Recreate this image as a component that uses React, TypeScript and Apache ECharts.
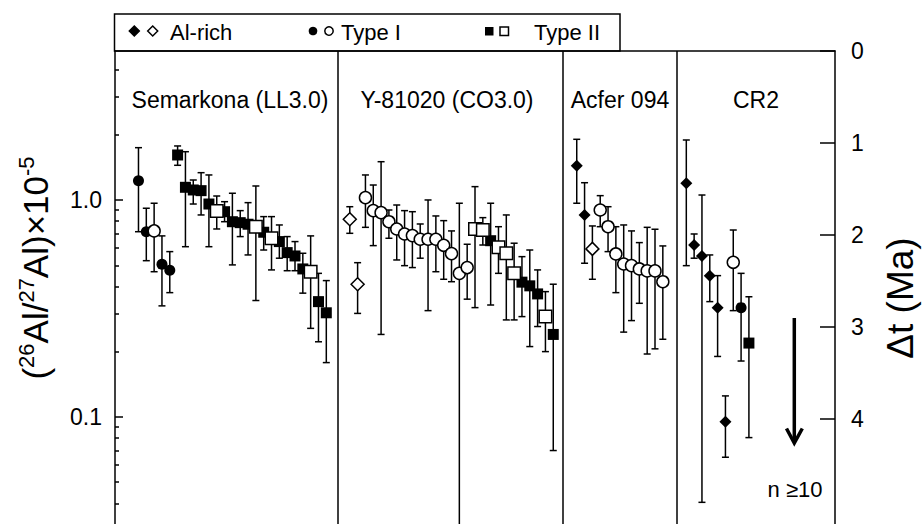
import React, { useEffect, useRef } from 'react';
import * as echarts from 'echarts';

// ---- data: [position index, 26Al/27Al (x1e-5), lower bound, upper bound]
const panelNames = ['Semarkona (LL3.0)', 'Y-81020 (CO3.0)', 'Acfer 094', 'CR2'];
const panelDividers = [26.5, 55.2, 69.8];

const alRichFilled = [
  [57, 1.439, 0.966, 1.904], [58, 0.853, 0.511, 1.201],
  [71, 1.194, 0.498, 1.89], [72, 0.62, 0.539, 0.697], [73, 0.552, 0.0404, 1.054],
  [74, 0.448, 0.34, 0.558], [75, 0.319, 0.19, 0.448], [76, 0.0951, 0.0652, 0.125],
];
const alRichOpen = [
  [28, 0.815, 0.702, 0.931], [29, 0.409, 0.3, 0.514], [59, 0.595, 0.431, 0.759],
];
const typeIFilled = [
  [1, 1.227, 0.714, 1.742], [2, 0.714, 0.525, 0.916], [4, 0.506, 0.325, 0.683],
  [5, 0.474, 0.374, 0.578], [78, 0.319, 0.181, 0.459],
];
const typeIOpen = [
  [3, 0.72, 0.467, 0.966],
  [30, 1.025, 0.748, 1.304], [31, 0.893, 0.616, 1.172], [32, 0.874, 0.24, 1.501],
  [33, 0.794, 0.666, 0.899], [34, 0.735, 0.529, 0.948], [35, 0.697, 0.498, 0.893],
  [36, 0.685, 0.488, 0.883], [37, 0.659, 0.539, 0.775], [38, 0.659, 0.309, 1.0],
  [39, 0.659, 0.467, 0.844], [40, 0.618, 0.431, 0.803], [41, 0.566, 0.42, 0.72],
  [42, 0.459, 0.01, 0.966], [43, 0.488, 0.349, 0.625],
  [60, 0.899, 0.753, 1.047], [61, 0.753, 0.578, 0.931], [62, 0.564, 0.374, 0.753],
  [63, 0.507, 0.246, 0.767], [64, 0.498, 0.278, 0.72], [65, 0.481, 0.334, 0.636],
  [66, 0.471, 0.195, 0.748], [67, 0.471, 0.206, 0.733], [68, 0.42, 0.228, 0.614],
  [77, 0.516, 0.309, 0.727],
];
const typeIIFilled = [
  [6, 1.612, 1.445, 1.774], [7, 1.144, 0.609, 1.669], [8, 1.112, 0.958, 1.236],
  [9, 1.104, 0.853, 1.336], [10, 0.958, 0.609, 1.304], [12, 0.883, 0.794, 0.982],
  [13, 0.794, 0.502, 1.074], [14, 0.786, 0.678, 0.893], [15, 0.773, 0.558, 0.972],
  [17, 0.71, 0.588, 0.838], [19, 0.643, 0.539, 0.767], [20, 0.572, 0.472, 0.678],
  [21, 0.552, 0.472, 0.643], [22, 0.481, 0.372, 0.568], [24, 0.34, 0.222, 0.459],
  [25, 0.302, 0.178, 0.425],
  [46, 0.649, 0.328, 0.966], [50, 0.418, 0.29, 0.548], [51, 0.402, 0.211, 0.588],
  [52, 0.369, 0.261, 0.476], [54, 0.24, 0.07, 0.409],
  [79, 0.219, 0.0803, 0.358],
];
const typeIIOpen = [
  [11, 0.89, 0.735, 1.043], [16, 0.753, 0.344, 1.16], [18, 0.666, 0.476, 0.838],
  [23, 0.467, 0.256, 0.683],
  [44, 0.735, 0.319, 1.152], [45, 0.727, 0.62, 0.829], [47, 0.605, 0.459, 0.753],
  [48, 0.568, 0.28, 0.853], [49, 0.459, 0.28, 0.632], [53, 0.29, 0.2, 0.378],
];

const leftMajorTicks = [0.1, 1];
const leftMinorTicks = [0.04, 0.05, 0.06, 0.07, 0.08, 0.09, 0.2, 0.3, 0.4, 0.5, 0.6, 0.7, 0.8, 0.9, 2, 3, 4];
const rightTicks = [0, 1, 2, 3, 4];

const FONT = 'Liberation Sans, Arial, Helvetica, sans-serif';

export default function App() {
  const ref = useRef<HTMLDivElement>(null);
  useEffect(() => {
    if (!ref.current) return;
    const chart = echarts.init(ref.current, null, { renderer: 'svg' });
    const all = [...alRichFilled, ...alRichOpen, ...typeIFilled, ...typeIOpen, ...typeIIFilled, ...typeIIOpen];
    const black = '#000';
    const scatter = (name: string, data: number[][], symbol: string, size: number, filled: boolean) => ({
      name,
      type: 'scatter',
      xAxisIndex: 0,
      yAxisIndex: 0,
      symbol,
      symbolSize: size,
      z: 5,
      data: data.map((d) => [d[0], d[1]]),
      itemStyle: { color: filled ? black : '#fff', borderColor: black, borderWidth: filled ? 0 : 1.5, opacity: 1 },
      emphasis: { disabled: true },
    });
    const txt = (text: string, x: number, y: number, size: number, align = 'center') => ({
      type: 'text', x, y, z: 10,
      style: { text, fontSize: size, fontFamily: FONT, fill: black, align, verticalAlign: 'middle' },
    });
    const diamond = (cx: number, cy: number, h: number, filled: boolean) => ({
      type: 'polygon', z: 10,
      shape: { points: [[cx, cy - h], [cx + h, cy], [cx, cy + h], [cx - h, cy]] },
      style: { fill: filled ? black : '#fff', stroke: black, lineWidth: 1.5 },
    });
    chart.setOption({
      animation: false,
      grid: { left: 115, right: 87, top: 51, bottom: 0, containLabel: false },
      xAxis: [{
        type: 'value', min: -2, max: 90, position: 'top',
        axisLine: { show: true, onZero: false, lineStyle: { color: black, width: 1.5 } },
        axisTick: { show: false }, axisLabel: { show: false }, splitLine: { show: false },
      }],
      yAxis: [
        {
          type: 'log', logBase: 10, min: 0.0321, max: 4.86, position: 'left',
          axisLine: { show: true, onZero: false, lineStyle: { color: black, width: 1.5 } },
          axisTick: { show: true, inside: true, length: 8, customValues: leftMajorTicks, lineStyle: { color: black, width: 1.5 } },
          axisLabel: { show: true, customValues: leftMajorTicks, margin: 13, fontSize: 23, fontFamily: FONT, color: black,
            formatter: (v: number) => Number(v).toFixed(1) },
          splitLine: { show: false },
        },
        {
          type: 'log', logBase: 10, min: 0.0321, max: 4.86, position: 'left',
          axisLine: { show: false, onZero: false },
          axisTick: { show: true, inside: true, length: 4, customValues: leftMinorTicks, lineStyle: { color: black, width: 1.5 } },
          axisLabel: { show: false }, splitLine: { show: false },
        },
        {
          type: 'value', min: 0, max: 5.14, inverse: true, position: 'right',
          axisLine: { show: true, onZero: false, lineStyle: { color: black, width: 1.5 } },
          axisTick: { show: true, inside: true, length: 15, customValues: rightTicks, lineStyle: { color: black, width: 1.5 } },
          axisLabel: { show: true, customValues: rightTicks, margin: 16, fontSize: 23, fontFamily: FONT, color: black },
          splitLine: { show: false },
        },
      ],
      series: [
        {
          name: 'error bars',
          type: 'custom',
          xAxisIndex: 0, yAxisIndex: 0, z: 2,
          data: all.map((d) => [d[0], d[2], d[3]]),
          encode: { x: 0, y: [1, 2] },
          renderItem: (params: any, api: any) => {
            const x = api.value(0);
            const lo = api.coord([x, api.value(1)]);
            const hi = api.coord([x, api.value(2)]);
            const c = 3.5;
            const st = { stroke: black, lineWidth: 1.5 };
            return {
              type: 'group',
              children: [
                { type: 'line', shape: { x1: lo[0], y1: lo[1], x2: hi[0], y2: hi[1] }, style: st },
                { type: 'line', shape: { x1: hi[0] - c, y1: hi[1], x2: hi[0] + c, y2: hi[1] }, style: st },
                { type: 'line', shape: { x1: lo[0] - c, y1: lo[1], x2: lo[0] + c, y2: lo[1] }, style: st },
              ],
            };
          },
          markLine: {
            silent: true, symbol: 'none', label: { show: false },
            lineStyle: { color: black, width: 1.5, type: 'solid' },
            data: panelDividers.map((v) => ({ xAxis: v })),
          },
        },
        scatter('Al-rich (filled)', alRichFilled, 'diamond', 12, true),
        scatter('Al-rich (open)', alRichOpen, 'diamond', 13, false),
        scatter('Type I (filled)', typeIFilled, 'circle', 11, true),
        scatter('Type I (open)', typeIOpen, 'circle', 12, false),
        scatter('Type II (filled)', typeIIFilled, 'rect', 11, true),
        scatter('Type II (open)', typeIIOpen, 'rect', 12.5, false),
      ],
      graphic: [
        { type: 'rect', z: 9, shape: { x: 114.5, y: 14, width: 505.5, height: 37 }, style: { fill: 'none', stroke: black, lineWidth: 1.5 } },
        diamond(134.3, 31, 5, true),
        diamond(152.7, 31, 5, false),
        txt('Al-rich', 170, 32, 22, 'left'),
        { type: 'circle', z: 10, shape: { cx: 313, cy: 31, r: 4.3 }, style: { fill: black } },
        { type: 'circle', z: 10, shape: { cx: 329, cy: 31, r: 4.2 }, style: { fill: '#fff', stroke: black, lineWidth: 1.5 } },
        txt('Type I', 341, 32, 22, 'left'),
        { type: 'rect', z: 10, shape: { x: 485, y: 27, width: 8.5, height: 8.5 }, style: { fill: black } },
        { type: 'rect', z: 10, shape: { x: 500, y: 27, width: 8.5, height: 8.5 }, style: { fill: '#fff', stroke: black, lineWidth: 1.5 } },
        txt('Type II', 534, 32, 22, 'left'),
        txt(panelNames[0], 230, 100, 23),
        txt(panelNames[1], 447, 100, 23),
        txt(panelNames[2], 620, 100, 23),
        txt(panelNames[3], 756, 100, 23),
        {
          type: 'text', x: 35, y: 268, rotation: Math.PI / 2, z: 10,
          style: {
            text: '({s|26}Al/{s|27}Al)×10{s|-5}', fontSize: 35, fontFamily: FONT, fill: black,
            align: 'center', verticalAlign: 'middle', lineHeight: 40,
            rich: { s: { fontSize: 22, fontFamily: FONT, fill: black, lineHeight: 22, verticalAlign: 'top' } },
          },
        },
        {
          type: 'text', x: 900, y: 298, rotation: Math.PI / 2, z: 10,
          style: { text: 'Δt (Ma)', fontSize: 37, fontFamily: FONT, fill: black, align: 'center', verticalAlign: 'middle' },
        },
        { type: 'line', z: 10, shape: { x1: 794.3, y1: 318, x2: 794.3, y2: 441 }, style: { stroke: black, lineWidth: 3.5 } },
        { type: 'polyline', z: 10, shape: { points: [[786.5, 428.5], [794.3, 443], [802.3, 428.5]] }, style: { stroke: black, lineWidth: 3.5, fill: 'none' } },
        txt('n ≥10', 795, 489, 22),
      ],
    });
    return () => chart.dispose();
  }, []);
  return <div ref={ref} style={{ position: 'absolute', left: 0, top: 0, width: 922, height: 524, background: '#fff' }} />;
}
